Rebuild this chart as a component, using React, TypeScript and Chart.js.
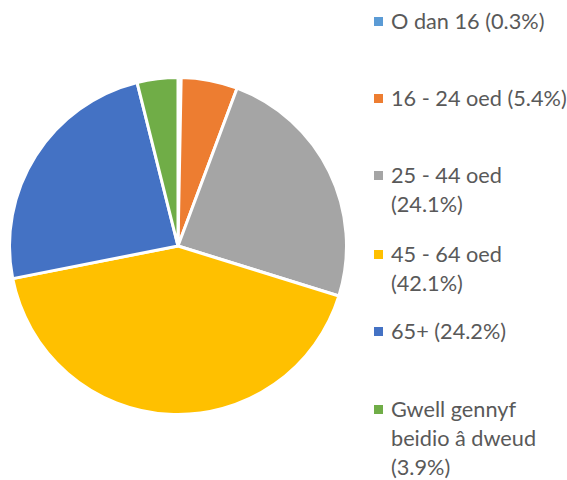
import React, { useEffect, useRef } from "react";
import { Chart, registerables } from "chart.js";

Chart.register(...registerables);

const categories = [
  "O dan 16 (0.3%)",
  "16 - 24 oed (5.4%)",
  "25 - 44 oed (24.1%)",
  "45 - 64 oed (42.1%)",
  "65+ (24.2%)",
  "Gwell gennyf beidio â dweud (3.9%)",
];
const legendLines = [
  ["O dan 16 (0.3%)"],
  ["16 - 24 oed (5.4%)"],
  ["25 - 44 oed", "(24.1%)"],
  ["45 - 64 oed", "(42.1%)"],
  ["65+ (24.2%)"],
  ["Gwell gennyf", "beidio â dweud", "(3.9%)"],
];
const values = [0.3, 5.4, 24.1, 42.1, 24.2, 3.9];
const colors = ["#5B9BD5", "#ED7D31", "#A5A5A5", "#FFC000", "#4472C4", "#70AD47"];
const legendBaselines = [29, 106, 183, 262, 339, 417];

export default function App() {
  const ref = useRef<HTMLCanvasElement | null>(null);
  useEffect(() => {
    if (!ref.current) return;
    const chart = new Chart(ref.current, {
      type: "pie",
      data: {
        labels: categories,
        datasets: [
          {
            data: values,
            backgroundColor: colors,
            borderColor: "#FFFFFF",
            borderWidth: 3,
          },
        ],
      },
      options: {
        animation: false,
        responsive: false,
        maintainAspectRatio: false,
        layout: { padding: 0 },
        plugins: {
          legend: { display: false },
          tooltip: { enabled: false },
        },
      },
    });
    return () => chart.destroy();
  }, []);

  const fontSize = 21.7;
  const lineH = 29;
  return (
    <div
      style={{
        position: "absolute",
        left: 0,
        top: 0,
        width: 567,
        height: 480,
        background: "#fff",
        overflow: "hidden",
        fontFamily: "Lato, 'Open Sans', sans-serif",
      }}
    >
      <canvas
        ref={ref}
        width={340}
        height={340}
        style={{ position: "absolute", left: 8, top: 76, width: 340, height: 340 }}
      />
      {legendLines.map((lines, i) => (
        <div key={i}>
          <div
            style={{
              position: "absolute",
              left: 374,
              top: legendBaselines[i] - 12,
              width: 9,
              height: 9,
              background: colors[i],
            }}
          />
          {lines.map((t, j) => (
            <div
              key={j}
              style={{
                position: "absolute",
                left: 391,
                top: legendBaselines[i] + j * lineH - 22,
                fontSize,
                lineHeight: "28px",
                color: "#595959",
                whiteSpace: "nowrap",
              }}
            >
              {t}
            </div>
          ))}
        </div>
      ))}
    </div>
  );
}
